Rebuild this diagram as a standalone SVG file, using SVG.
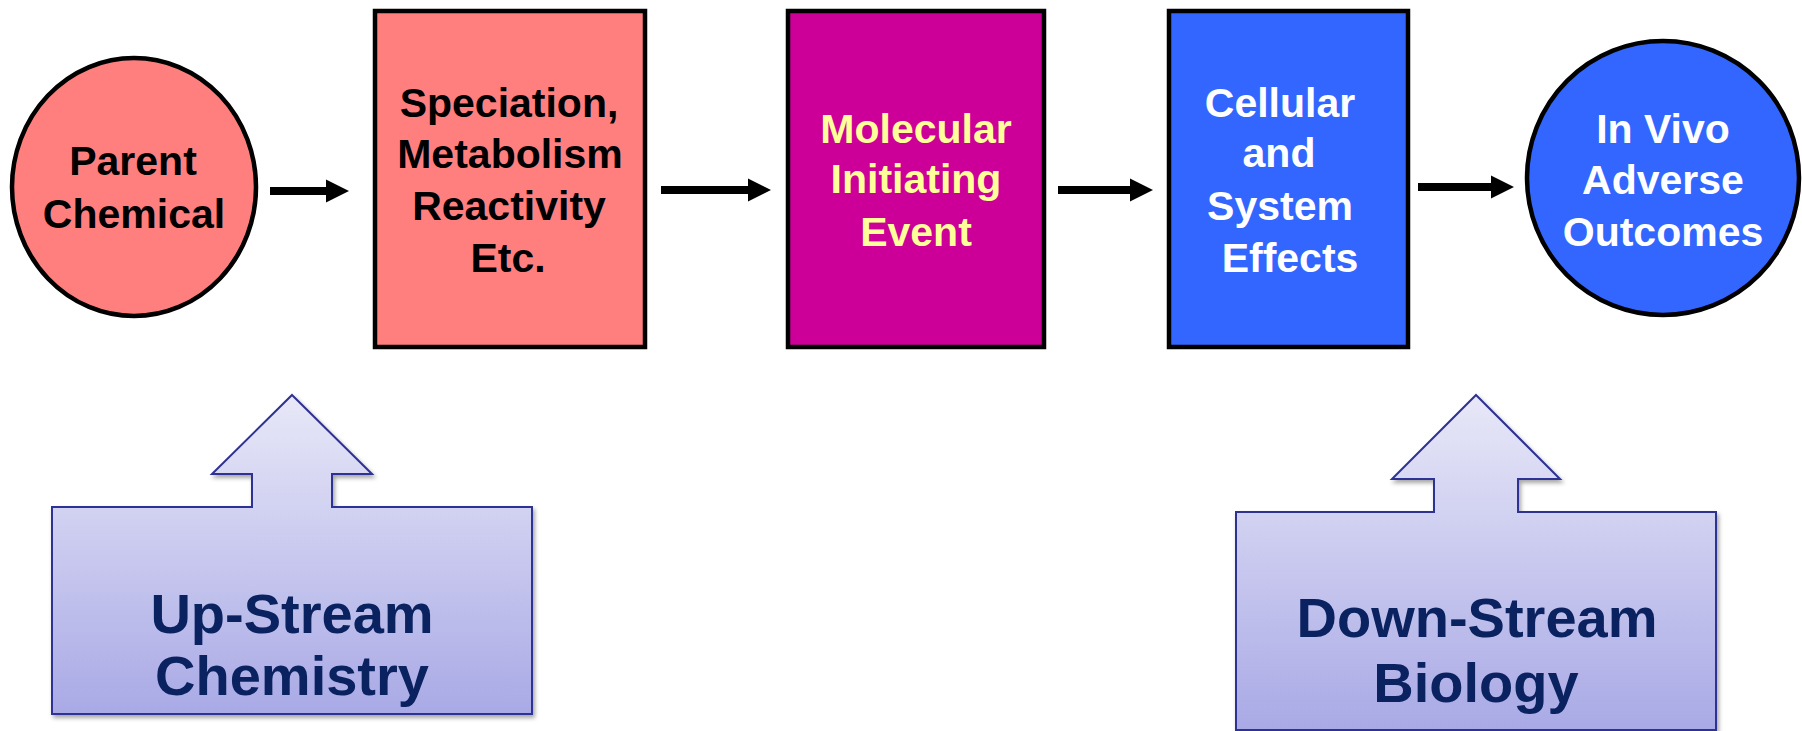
<svg xmlns="http://www.w3.org/2000/svg" width="1802" height="731" viewBox="0 0 1802 731">
<defs>
<style>
.lbl{font-family:"Comic Sans MS","Liberation Sans",sans-serif;font-weight:bold;text-anchor:middle}
.top{font-size:41px}
.big{font-size:56px;fill:#0B2260}
.node{stroke:#000;stroke-width:4.5}
.conn{stroke:#000;stroke-width:8;fill:none}
.fat{stroke:#2E3192;stroke-width:2;fill:url(#lav);filter:url(#sh)}
</style>
<linearGradient id="lav" x1="0" y1="0" x2="0" y2="1">
<stop offset="0" stop-color="#E8E8F8"/>
<stop offset="1" stop-color="#A9A9E6"/>
</linearGradient>
<filter id="sh" x="-5%" y="-5%" width="115%" height="115%">
<feDropShadow dx="2" dy="3" stdDeviation="2" flood-color="#000" flood-opacity="0.35"/>
</filter>
<marker id="ah" markerUnits="userSpaceOnUse" markerWidth="24" markerHeight="24" refX="0" refY="12" orient="auto">
<path d="M0,0.5 L23,12 L0,23.5 z" fill="#000"/>
</marker>
</defs>
<g id="connectors">
<line class="conn" x1="270" y1="191" x2="326" y2="191" marker-end="url(#ah)"/>
<line class="conn" x1="661" y1="190" x2="748" y2="190" marker-end="url(#ah)"/>
<line class="conn" x1="1058" y1="190" x2="1130" y2="190" marker-end="url(#ah)"/>
<line class="conn" x1="1418" y1="187" x2="1491" y2="187" marker-end="url(#ah)"/>
</g>
<g id="parent">
<ellipse class="node" cx="134" cy="187" rx="122" ry="129" fill="#FF7F7F"/>
<text class="lbl top" x="133" y="175" fill="#000">Parent</text>
<text class="lbl top" x="134" y="228" fill="#000">Chemical</text>
</g>
<g id="speciation">
<rect class="node" x="375" y="11" width="270" height="336" fill="#FF7F7F"/>
<text class="lbl top" x="509" y="117" fill="#000">Speciation,</text>
<text class="lbl top" x="510" y="168" fill="#000">Metabolism</text>
<text class="lbl top" x="509" y="220" fill="#000">Reactivity</text>
<text class="lbl top" x="508" y="272" fill="#000">Etc.</text>
</g>
<g id="mie">
<rect class="node" x="788" y="11" width="256" height="336" fill="#CC0099"/>
<text class="lbl top" x="916" y="143" fill="#FFFF99">Molecular</text>
<text class="lbl top" x="916" y="193" fill="#FFFF99">Initiating</text>
<text class="lbl top" x="916" y="246" fill="#FFFF99">Event</text>
</g>
<g id="cellular">
<rect class="node" x="1169" y="11" width="239" height="336" fill="#3366FF"/>
<text class="lbl top" x="1280" y="117" fill="#FFFFFF">Cellular</text>
<text class="lbl top" x="1279" y="167" fill="#FFFFFF">and</text>
<text class="lbl top" x="1280" y="220" fill="#FFFFFF">System</text>
<text class="lbl top" x="1290" y="272" fill="#FFFFFF">Effects</text>
</g>
<g id="invivo">
<ellipse class="node" cx="1663" cy="178" rx="136" ry="137" fill="#3366FF"/>
<text class="lbl top" x="1663" y="143" fill="#FFFFFF">In Vivo</text>
<text class="lbl top" x="1663" y="194" fill="#FFFFFF">Adverse</text>
<text class="lbl top" x="1663" y="246" fill="#FFFFFF">Outcomes</text>
</g>
<g id="upstream">
<path class="fat" d="M292,395 L372,474 L332,474 L332,507 L532,507 L532,714 L52,714 L52,507 L252,507 L252,474 L212,474 Z"/>
<text class="lbl big" x="292" y="633">Up-Stream</text>
<text class="lbl big" x="292" y="695">Chemistry</text>
</g>
<g id="downstream">
<path class="fat" d="M1476,395 L1560,479 L1518,479 L1518,512 L1716,512 L1716,730 L1236,730 L1236,512 L1434,512 L1434,479 L1392,479 Z"/>
<text class="lbl big" x="1477" y="637">Down-Stream</text>
<text class="lbl big" x="1476" y="702">Biology</text>
</g>
</svg>
